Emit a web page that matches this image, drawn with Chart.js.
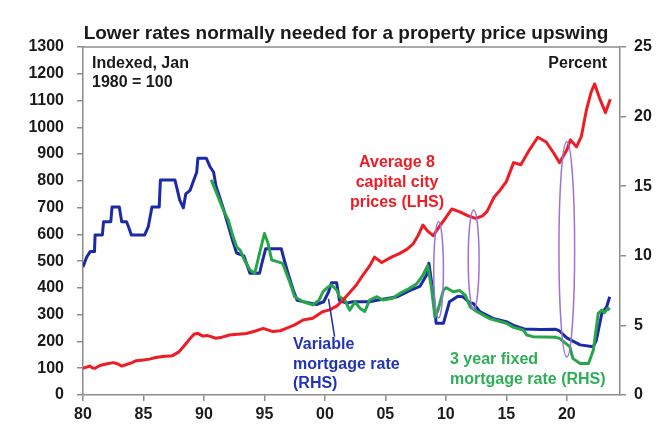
<!DOCTYPE html>
<html>
<head>
<meta charset="utf-8">
<title>Lower rates and property prices</title>
<script src="https://cdn.jsdelivr.net/npm/chart.js@4/dist/chart.umd.min.js"></script>
<style>
  body { margin: 0; background: #fff; }
</style>
</head>
<body>
<canvas id="chart" width="664" height="445"></canvas>
<script>
// data (years as decimals)
const priceYears = [1980.0,1980.3,1980.55,1980.8,1981.0,1981.4,1981.9,1982.5,1982.9,1983.2,1983.6,1984.0,1984.4,1985.0,1985.5,1986.0,1986.6,1987.4,1987.9,1988.3,1988.8,1989.2,1989.5,1989.9,1990.3,1991.0,1991.5,1992.1,1992.8,1993.5,1994.2,1994.9,1995.7,1996.3,1996.8,1997.5,1998.2,1999.0,1999.8,2000.4,2001.0,2001.5,2002.0,2002.6,2003.1,2003.7,2004.1,2004.7,2005.5,2006.2,2006.8,2007.3,2007.7,2008.1,2008.5,2008.95,2009.4,2009.8,2010.5,2011.2,2011.8,2012.45,2013.0,2013.4,2014.0,2014.5,2015.0,2015.6,2016.2,2016.9,2017.6,2018.3,2018.9,2019.4,2020.0,2020.3,2020.8,2021.2,2021.6,2022.0,2022.3,2022.7,2023.2,2023.6];
const priceIndex = [100,104,108,101,100,110,116,121,116,108,114,120,128,131,134,140,144,147,160,180,208,228,230,220,222,212,216,224,227,230,238,249,237,240,249,262,280,287,311,318,333,355,380,411,445,482,515,495,515,529,545,565,595,635,612,595,625,650,695,683,670,660,668,685,740,766,797,868,860,915,963,945,905,868,915,953,927,965,1060,1130,1162,1110,1055,1105];

const variableYears = [1980.0,1980.3,1980.6,1980.95,1981.0,1981.6,1981.7,1982.3,1982.4,1983.0,1983.2,1983.6,1983.8,1984.0,1985.1,1985.4,1985.7,1986.3,1986.4,1987.6,1988.0,1988.3,1988.5,1988.85,1989.1,1989.4,1989.5,1990.2,1990.5,1990.8,1991.0,1991.3,1991.6,1992.0,1992.4,1992.7,1993.3,1993.8,1994.6,1994.8,1995.1,1996.4,1996.7,1997.0,1997.4,1997.7,1998.8,1999.3,1999.9,2000.3,2000.55,2000.97,2001.2,2001.8,2002.3,2003.7,2004.3,2006.0,2007.0,2007.85,2008.4,2008.6,2008.95,2009.2,2009.8,2010.3,2011.0,2011.4,2012.0,2012.25,2012.8,2013.9,2015.0,2015.6,2016.1,2016.5,2017.8,2019.1,2019.4,2020.0,2021.1,2022.2,2022.45,2022.9,2023.3,2023.55];
const variableRate = [9.2,9.9,10.3,10.3,11.5,11.5,12.45,12.45,13.5,13.5,12.45,12.45,12.0,11.5,11.5,12.1,13.5,13.5,15.45,15.45,14.0,13.45,14.45,14.7,15.3,16.0,17.0,17.0,16.4,16.0,15.0,14.2,13.4,12.2,11.0,10.2,10.0,8.75,8.75,9.5,10.5,10.5,9.5,8.6,7.5,6.8,6.6,6.5,6.7,7.4,8.07,8.07,6.8,6.6,6.7,6.7,6.8,7.06,7.5,7.8,8.6,9.46,7.3,5.15,5.15,6.7,7.1,7.06,6.6,6.6,6.0,5.5,5.27,5.0,4.85,4.75,4.7,4.72,4.6,4.1,3.6,3.47,3.95,5.87,6.34,7.06];

const fixedYears = [1990.6,1991.05,1991.6,1992.0,1992.4,1992.7,1993.0,1993.4,1993.8,1994.2,1994.6,1995.0,1995.3,1995.6,1996.0,1996.5,1997.1,1997.5,1998.2,1999.0,1999.5,1999.85,2000.3,2000.55,2000.97,2001.2,2001.65,2002.05,2002.5,2002.9,2003.3,2003.7,2004.3,2004.8,2005.6,2006.2,2007.0,2007.6,2008.1,2008.5,2008.8,2009.1,2009.35,2009.8,2010.05,2010.6,2011.15,2011.6,2012.0,2012.55,2013.6,2015.0,2015.6,2016.4,2016.7,2017.2,2019.1,2019.4,2020.25,2020.5,2021.1,2021.8,2022.2,2022.6,2022.9,2023.1,2023.4,2023.55];
const fixedRate = [15.45,14.5,13.3,12.6,11.4,10.65,10.4,9.6,9.0,8.74,10.2,11.6,10.9,9.7,9.6,9.46,8.1,7.06,6.7,6.47,6.8,7.42,7.78,7.9,7.54,7.06,6.82,6.1,6.7,6.23,6.0,6.82,7.06,6.82,6.95,7.3,7.66,8.0,8.6,9.3,7.78,5.6,6.1,7.54,7.7,7.42,7.5,7.18,6.34,6.0,5.5,5.15,4.86,4.67,4.31,4.19,4.14,4.07,3.47,2.63,2.27,2.27,3.23,5.87,6.1,5.9,6.23,6.1];

// purple ellipses marking rate cuts (centre year, half width in years, LHS range)
const circleYears = [2009.4, 2012.3, 2020.0];
const circleHalfWidth = [0.4, 0.45, 0.65];
const circleLow = [288, 321, 142];
const circleHigh = [647, 691, 946];

const xTicks = [1980, 1985, 1990, 1995, 2000, 2005, 2010, 2015, 2020];

const toPoints = (xs, ys) => xs.map((x, i) => ({ x: x, y: ys[i] }));

const FONT = "'Liberation Sans', Arial, sans-serif";
Chart.defaults.font.family = FONT;

const RED = '#ee1c25', BLUE = '#1c2aa8', GREEN = '#27a54b', PURPLE = '#9b72d8';
const TITLE = 'Lower rates normally needed for a property price upswing';

const notes = {
  id: 'notes',
  afterDatasetsDraw(chart) {
    const ctx = chart.ctx;
    const xs = chart.scales.x, yl = chart.scales.y, yr = chart.scales.y1;
    const a = chart.chartArea;
    ctx.save();
    // ellipses
    ctx.strokeStyle = PURPLE;
    ctx.lineWidth = 1.5;
    circleYears.forEach((yr0, i) => {
      const cx = xs.getPixelForValue(yr0);
      const rx = xs.getPixelForValue(yr0 + circleHalfWidth[i]) - cx;
      const top = yl.getPixelForValue(circleHigh[i]);
      const bot = yl.getPixelForValue(circleLow[i]);
      ctx.beginPath();
      ctx.ellipse(cx, (top + bot) / 2, rx, (bot - top) / 2, 0, 0, Math.PI * 2);
      ctx.stroke();
    });
    // pointer for the variable rate label
    ctx.strokeStyle = BLUE;
    ctx.lineWidth = 1.5;
    ctx.beginPath();
    ctx.moveTo(xs.getPixelForValue(2000.8), yr.getPixelForValue(4.2));
    ctx.lineTo(xs.getPixelForValue(2000.3), yr.getPixelForValue(6.9));
    ctx.stroke();

    ctx.font = 'bold 16px ' + FONT;
    ctx.textBaseline = 'middle';
    ctx.fillStyle = '#1a1a1a';
    ctx.textAlign = 'left';
    ctx.fillText('Indexed, Jan', a.left + 9, 64);
    ctx.fillText('1980 = 100', a.left + 9, 83);
    ctx.textAlign = 'right';
    ctx.fillText('Percent', a.right - 13, 64);

    ctx.fillStyle = RED;
    ctx.textAlign = 'center';
    ['Average 8', 'capital city', 'prices (LHS)'].forEach((t, i) => ctx.fillText(t, 397, 163 + i * 20));

    ctx.fillStyle = '#2233b5';
    ctx.textAlign = 'left';
    ['Variable', 'mortgage rate', '(RHS)'].forEach((t, i) => ctx.fillText(t, 293, 345 + i * 19.5));

    ctx.fillStyle = '#2fae58';
    ['3 year fixed', 'mortgage rate (RHS)'].forEach((t, i) => ctx.fillText(t, 450, 360 + i * 20));
    ctx.restore();
  },
  afterDraw(chart) {
    const a = chart.chartArea, ctx = chart.ctx;
    ctx.save();
    ctx.strokeStyle = '#8c8c8c';
    ctx.lineWidth = 1.5;
    ctx.beginPath();
    ctx.moveTo(a.left, a.top);
    ctx.lineTo(a.right, a.top);
    ctx.stroke();
    // title, centred a little right of the canvas middle as in the source
    ctx.font = 'bold 19px ' + FONT;
    ctx.fillStyle = '#1a1a1a';
    ctx.textAlign = 'center';
    ctx.textBaseline = 'middle';
    ctx.fillText(TITLE, 346, 34);
    ctx.restore();
  }
};

const tickFont = { size: 16, weight: 'bold', family: FONT };

new Chart(document.getElementById('chart'), {
  type: 'line',
  data: {
    datasets: [
      { label: 'Average 8 capital city prices (LHS)', data: toPoints(priceYears, priceIndex), borderColor: RED, yAxisID: 'y' },
      { label: '3 year fixed mortgage rate (RHS)', data: toPoints(fixedYears, fixedRate), borderColor: GREEN, yAxisID: 'y1' },
      { label: 'Variable mortgage rate (RHS)', data: toPoints(variableYears, variableRate), borderColor: BLUE, yAxisID: 'y1' }
    ]
  },
  options: {
    responsive: false,
    animation: false,
    devicePixelRatio: 1,
    layout: { padding: { top: 47 } },
    elements: {
      point: { radius: 0 },
      line: { borderWidth: 3, tension: 0, fill: false, borderJoinStyle: 'round' }
    },
    plugins: {
      legend: { display: false },
      tooltip: { enabled: false },
      title: { display: false }
    },
    scales: {
      x: {
        type: 'linear',
        min: 1980,
        max: 2024.4,
        afterBuildTicks: s => { s.ticks = xTicks.map(v => ({ value: v })); },
        ticks: {
          callback: v => String(v % 100).padStart(2, '0'),
          font: tickFont, color: '#1a1a1a', padding: 4, maxRotation: 0, autoSkip: false
        },
        grid: { drawOnChartArea: false, tickLength: 6, color: '#8c8c8c', lineWidth: 1.5 },
        border: { color: '#8c8c8c', width: 1.5 },
        afterFit: s => { s.height = 50; }
      },
      y: {
        position: 'left',
        min: 0,
        max: 1300,
        ticks: { stepSize: 100, callback: v => String(v), font: tickFont, color: '#1a1a1a', padding: 13 },
        grid: { drawOnChartArea: false, tickLength: 6, color: '#8c8c8c', lineWidth: 1.5 },
        border: { color: '#8c8c8c', width: 1.5 },
        afterFit: s => { s.width = 83; }
      },
      y1: {
        position: 'right',
        min: 0,
        max: 25,
        ticks: { stepSize: 5, callback: v => String(v), font: tickFont, color: '#1a1a1a', padding: 8 },
        grid: { drawOnChartArea: false, tickLength: 6, color: '#8c8c8c', lineWidth: 1.5 },
        border: { color: '#8c8c8c', width: 1.5 },
        afterFit: s => { s.width = 44; }
      }
    }
  },
  plugins: [notes]
});
</script>
</body>
</html>
